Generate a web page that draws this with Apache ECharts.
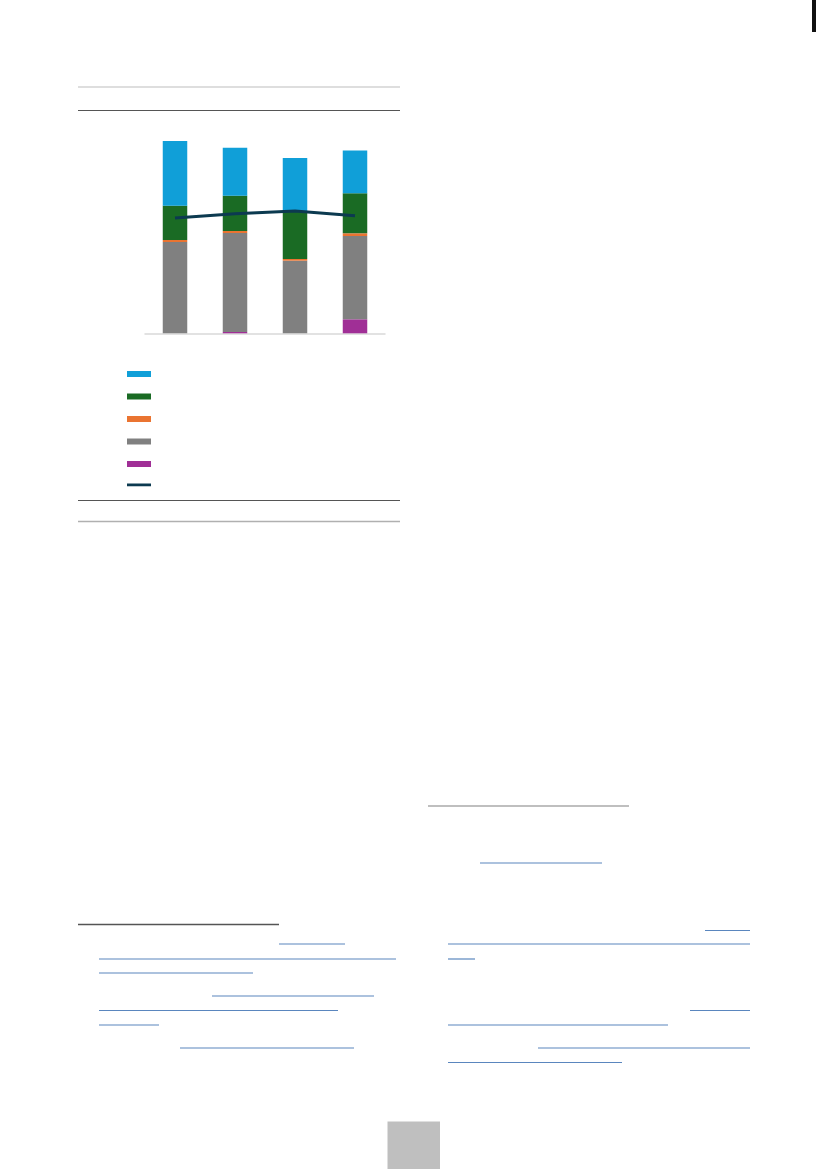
<!DOCTYPE html>
<html lang="en">
<head>
    <meta charset="UTF-8">
    <title>Chart</title>
    <style>
        body {
            margin: 0;
            background-color: #fff;
        }

        #page {
            width: 827px;
            height: 1169px;
        }
    </style>
</head>
<body>

    <div id="page"></div>

    <script src="https://cdn.jsdelivr.net/npm/echarts@6/dist/echarts.min.js"></script>
    <script>

        // categories (labels are not shown in the picture)
        const categories = ['1', '2', '3', '4'];

        // stacked segments, bottom to top
        const purpleValues = [0, 1.3, 0, 14];
        const grayValues = [91.3, 99, 72.6, 83.3];
        const orangeValues = [2, 2, 1.7, 2.7];
        const greenValues = [34.3, 35.3, 47.3, 40];
        const blueValues = [64.7, 48, 53.7, 42.7];

        // line
        const lineValues = [115.3, 119.5, 122.3, 117.6];

        const seriesNames = ['blue', 'green', 'orange', 'gray', 'purple', 'line'];

        const chart = echarts.init(document.getElementById('page'));

        // page decoration lines
        const rule = (x1, x2, y, color, width) => ({
            type: 'line',
            silent: true,
            shape: { x1: x1, y1: y, x2: x2, y2: y },
            style: { stroke: color, lineWidth: width },
        });
        const link = (x1, x2, y) => rule(x1, x2, y, '#5a86be', 1.2);

        const barSeries = (name, data, color) => ({
            name: name,
            type: 'bar',
            stack: 'total',
            data: data,
            barWidth: 24.5,
            itemStyle: { color: color },
        });

        const option = {
            animation: false,
            grid: {
                left: 145,
                top: 133.3,
                width: 240,
                height: 200,
            },
            xAxis: {
                type: 'category',
                data: categories,
                axisLabel: { show: false },
                axisTick: { show: false },
                axisLine: {
                    show: true,
                    lineStyle: { color: '#d9d9d9', width: 1.5 },
                },
            },
            yAxis: {
                type: 'value',
                min: 0,
                max: 200,
                show: false,
            },
            legend: {
                orient: 'vertical',
                left: 127,
                top: 371,
                padding: 0,
                itemWidth: 24,
                itemHeight: 6,
                itemGap: 16.5,
                formatter: () => '',
                textStyle: { fontSize: 6, lineHeight: 6 },
                data: [
                    { name: 'blue', icon: 'rect' },
                    { name: 'green', icon: 'rect' },
                    { name: 'orange', icon: 'rect' },
                    { name: 'gray', icon: 'rect' },
                    { name: 'purple', icon: 'rect' },
                    { name: 'line', icon: 'path://M0,0H26V3H0Z' },
                ],
            },
            graphic: [
                rule(78, 400, 87, '#dedede', 2),
                rule(78, 400, 110.5, '#555555', 1.2),
                rule(78, 400, 500.5, '#555555', 1.2),
                rule(78, 400, 521.5, '#b0b0b0', 1.5),
                rule(428, 629, 806, '#aaaaaa', 1.5),
                rule(78, 279, 924.5, '#555555', 1.5),
                link(480, 602, 863),
                link(279, 345, 944),
                link(99, 396, 959),
                link(99, 253, 973),
                link(212, 374, 996),
                link(99, 338, 1010.5),
                link(99, 159, 1025),
                link(180, 354, 1048),
                link(705, 750, 930.5),
                link(448, 750, 944),
                link(448, 475, 959),
                link(690, 750, 1010.5),
                link(448, 668, 1025),
                link(538, 750, 1048),
                link(448, 622, 1062.5),
                {
                    type: 'rect',
                    silent: true,
                    shape: { x: 387.5, y: 1121.5, width: 52.5, height: 48 },
                    style: { fill: '#bfbfbf' },
                },
                {
                    type: 'rect',
                    silent: true,
                    shape: { x: 812, y: 0, width: 4, height: 32 },
                    style: { fill: '#111111' },
                },
            ],
            series: [
                barSeries(seriesNames[4], purpleValues, '#a02f96'),
                barSeries(seriesNames[3], grayValues, '#808080'),
                barSeries(seriesNames[2], orangeValues, '#ea7431'),
                barSeries(seriesNames[1], greenValues, '#1a6b24'),
                barSeries(seriesNames[0], blueValues, '#109fd8'),
                {
                    name: seriesNames[5],
                    type: 'line',
                    data: lineValues,
                    symbol: 'none',
                    z: 5,
                    lineStyle: { color: '#0c3a50', width: 3 },
                    itemStyle: { color: '#0c3a50' },
                },
            ],
        };

        chart.setOption(option);

    </script>
</body>
</html>
